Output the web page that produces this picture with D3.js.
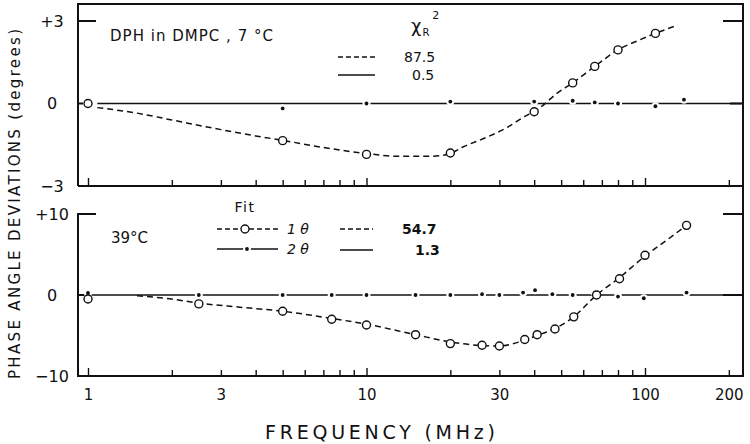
<!DOCTYPE html>
<html>
<head>
<meta charset="utf-8">
<script src="https://cdn.jsdelivr.net/npm/d3@7"></script>
<style>
body { margin: 0; background: #fff; }
text { font-family: "DejaVu Sans", sans-serif; fill: #111; }
</style>
</head>
<body>
<script>
// dimensions
var width = 750;
var height = 444;

// ---- data (frequency in MHz, phase angle deviation in degrees) ----
// top panel: DPH in DMPC, 7 C
var topFreq1 = [1, 5, 10, 20, 40, 55, 66, 80, 109];
var topDev1 = [0, -1.35, -1.85, -1.8, -0.3, 0.75, 1.35, 1.95, 2.55];
var topFreq2 = [1, 5, 10, 20, 40, 55, 66, 80, 109, 138];
var topDev2 = [0, -0.18, 0, 0.07, 0.07, 0.1, 0.04, 0, -0.1, 0.14];
// fitted curves, top
var topFitFreq1 = [1.08, 1.5, 2, 3, 4, 5, 7, 10, 13, 17, 20, 22, 27, 32, 37, 42, 48, 55, 66, 80, 95, 109, 131];
var topFitDev1 = [-0.15, -0.35, -0.6, -0.95, -1.18, -1.34, -1.6, -1.82, -1.92, -1.92, -1.82, -1.6, -1.23, -0.87, -0.47, -0.15, 0.35, 0.75, 1.35, 1.95, 2.3, 2.55, 2.85];
var topFitFreq2 = [1.08, 225];
var topFitDev2 = [0, 0];

// bottom panel: 39 C
var botFreq1 = [1, 2.5, 5, 7.5, 10, 15, 20, 26, 30, 37, 41, 47.5, 55.5, 67, 81, 100, 141];
var botDev1 = [-0.5, -1.1, -2.0, -3.0, -3.7, -4.9, -6.0, -6.2, -6.3, -5.5, -4.9, -4.2, -2.7, 0, 2.0, 4.9, 8.6];
var botFreq2 = [1, 2.5, 5, 7.5, 10, 15, 20, 26, 30, 36.5, 40.3, 46.5, 55, 66, 80, 99, 141];
var botDev2 = [0.25, 0, 0, 0, 0, 0, 0, 0.1, 0, 0.3, 0.6, 0.1, 0, 0.3, -0.2, -0.4, 0.3];
var botFitFreq1 = [1.5, 2, 2.5, 3.5, 5, 7.5, 10, 15, 20, 25, 30, 36, 41, 47, 55, 67, 80, 100, 120, 141];
var botFitDev1 = [-0.1, -0.5, -1.0, -1.5, -2.0, -2.9, -3.6, -4.9, -5.8, -6.2, -6.3, -5.7, -5.0, -4.2, -2.8, 0, 2.0, 4.8, 6.8, 8.6];
var botFitFreq2 = [0.92, 225];
var botFitDev2 = [0, 0];

// chi-square values
var chiTop = ["87.5", "0.5"];
var chiBot = ["54.7", "1.3"];

// axis ticks
var xLabels = [1, 3, 10, 30, 100, 200];
var topTicks = [3, 0, -3];
var topTickLabels = ["+3", "0", "\u22123"];
var botTicks = [10, 0, -10];
var botTickLabels = ["+10", "0", "\u221210"];

function zip(a, b) {
    return a.map(function(v, i) { return [v, b[i]]; });
}

// frame
var left = 78, right = 743;
var topY0 = 4, topY1 = 186;
var botY0 = 213, botY1 = 376;

var svg = d3.select("body")
    .append("svg")
    .attr("width", width)
    .attr("height", height);

// scales
var x = d3.scaleLog().domain([1, 100]).range([88, 645]);
var yTop = d3.scaleLinear().domain([-3, 3]).range([topY1, 21]);
var yBot = d3.scaleLinear().domain([-10, 10]).range([botY1, 214]);

// the box around both panels
svg.append("path")
    .attr("d", "M" + left + "," + topY1 + "V" + topY0 + "H" + right + "V" + botY1 + "H" + left + "V" + botY0)
    .attr("fill", "none")
    .attr("stroke", "#111")
    .attr("stroke-width", 2);
svg.append("line")
    .attr("x1", left).attr("x2", right)
    .attr("y1", topY1).attr("y2", topY1)
    .attr("stroke", "#111")
    .attr("stroke-width", 2);

// minor/major ticks along the bottom of each panel
var allTicks = x.copy().domain([1, 200]).ticks();
[topY1, botY1].forEach(function(yy) {
    var g = svg.append("g")
        .attr("transform", "translate(0," + yy + ")")
        .call(d3.axisBottom(x).tickValues(allTicks).tickSize(-6).tickFormat(""));
    g.select(".domain").remove();
    g.selectAll("line").attr("stroke", "#111").attr("stroke-width", 1.4)
        .attr("y2", function(d) { return [1, 10, 100].indexOf(d) >= 0 ? -8 : -6; });
});

// frequency labels
var xl = svg.append("g")
    .attr("transform", "translate(0," + (botY1 + 10) + ")")
    .call(d3.axisBottom(x).tickValues(xLabels).tickSize(0).tickFormat(d3.format("d")));
xl.select(".domain").remove();
xl.selectAll("text").attr("font-size", 15).attr("dy", "0.75em")
    .style("font-family", "DejaVu Sans, sans-serif");

// y ticks and labels
function yAxis(scale, ticks, labels, leftLen, rightLen) {
    ticks.forEach(function(t, i) {
        var yy = scale(t);
        svg.append("text")
            .attr("x", 52).attr("y", yy)
            .attr("dy", "0.36em")
            .attr("text-anchor", "middle")
            .attr("font-size", 16)
            .text(labels[i]);
        if (leftLen[i] > 0) {
            svg.append("line")
                .attr("x1", left).attr("x2", left + leftLen[i])
                .attr("y1", yy).attr("y2", yy)
                .attr("stroke", "#111").attr("stroke-width", 2);
        }
        if (rightLen[i] > 0) {
            svg.append("line")
                .attr("x1", right - rightLen[i]).attr("x2", right)
                .attr("y1", yy).attr("y2", yy)
                .attr("stroke", "#111").attr("stroke-width", 2);
        }
    });
}
yAxis(yTop, topTicks, topTickLabels, [18, 5, 0], [20, 13, 0]);
yAxis(yBot, botTicks, botTickLabels, [18, 6, 0], [20, 20, 0]);

// draw one panel
function panel(y, fit1, fit2, pts1, pts2) {
    var line = d3.line()
        .x(function(d) { return x(d[0]); })
        .y(function(d) { return y(d[1]); })
        .curve(d3.curveMonotoneX);

    svg.append("path")
        .datum(fit2)
        .attr("d", line)
        .attr("fill", "none")
        .attr("stroke", "#111")
        .attr("stroke-width", 1.5);

    svg.append("path")
        .datum(fit1)
        .attr("d", line)
        .attr("fill", "none")
        .attr("stroke", "#111")
        .attr("stroke-width", 1.5)
        .attr("stroke-dasharray", "6,4");

    // white gap around the dots, then the dots
    svg.append("g").selectAll("circle")
        .data(pts2).enter().append("circle")
        .attr("cx", function(d) { return x(d[0]); })
        .attr("cy", function(d) { return y(d[1]); })
        .attr("r", 4)
        .attr("fill", "#fff");
    svg.append("g").selectAll("circle")
        .data(pts2).enter().append("circle")
        .attr("cx", function(d) { return x(d[0]); })
        .attr("cy", function(d) { return y(d[1]); })
        .attr("r", 1.9)
        .attr("fill", "#111");

    svg.append("g").selectAll("circle")
        .data(pts1).enter().append("circle")
        .attr("cx", function(d) { return x(d[0]); })
        .attr("cy", function(d) { return y(d[1]); })
        .attr("r", 4)
        .attr("fill", "#fff")
        .attr("stroke", "#111")
        .attr("stroke-width", 1.4);
}

panel(yTop, zip(topFitFreq1, topFitDev1), zip(topFitFreq2, topFitDev2),
    zip(topFreq1, topDev1), zip(topFreq2, topDev2));
panel(yBot, zip(botFitFreq1, botFitDev1), zip(botFitFreq2, botFitDev2),
    zip(botFreq1, botDev1), zip(botFreq2, botDev2));

// ---- texts and legends ----
svg.append("text")
    .attr("x", 110).attr("y", 41)
    .attr("font-size", 15)
    .attr("textLength", 163)
    .attr("lengthAdjust", "spacing")
    .text("DPH in DMPC , 7 \u00b0C");

// chi-square header
var chi = svg.append("text").attr("x", 411).attr("y", 32).attr("font-size", 18);
chi.append("tspan").text("\u03c7");
chi.append("tspan").attr("font-size", 10).attr("dy", 4).attr("dx", 1).text("R");
chi.append("tspan").attr("font-size", 11).attr("dy", -17).attr("dx", 3).text("2");

function legendLine(x1, x2, yy, dashed) {
    svg.append("line")
        .attr("x1", x1).attr("x2", x2)
        .attr("y1", yy).attr("y2", yy)
        .attr("stroke", "#111")
        .attr("stroke-width", 1.5)
        .attr("stroke-dasharray", dashed ? "5,3" : null);
}

legendLine(338, 375, 57, true);
legendLine(338, 375, 75, false);
svg.append("text").attr("x", 404).attr("y", 57).attr("dy", "0.36em").attr("font-size", 14).text(chiTop[0]);
svg.append("text").attr("x", 412).attr("y", 75).attr("dy", "0.36em").attr("font-size", 14).text(chiTop[1]);

// bottom panel
svg.append("text")
    .attr("x", 111).attr("y", 243)
    .attr("font-size", 15)
    .text("39\u00b0C");

svg.append("text")
    .attr("x", 245).attr("y", 207)
    .attr("dy", "0.36em")
    .attr("text-anchor", "middle")
    .attr("font-size", 14)
    .attr("letter-spacing", 1.5)
    .text("Fit");

legendLine(217, 280, 229, true);
svg.append("circle").attr("cx", 245).attr("cy", 229).attr("r", 4)
    .attr("fill", "#fff").attr("stroke", "#111").attr("stroke-width", 1.4);
legendLine(217, 278, 249, false);
svg.append("circle").attr("cx", 247).attr("cy", 249).attr("r", 4).attr("fill", "#fff");
svg.append("circle").attr("cx", 247).attr("cy", 249).attr("r", 1.9).attr("fill", "#111");
svg.append("text").attr("x", 287).attr("y", 229).attr("dy", "0.36em")
    .attr("font-size", 14).attr("font-style", "italic").text("1 \u03b8");
svg.append("text").attr("x", 287).attr("y", 249).attr("dy", "0.36em")
    .attr("font-size", 14).attr("font-style", "italic").text("2 \u03b8");

legendLine(340, 373, 229, true);
legendLine(340, 373, 250, false);
svg.append("text").attr("x", 402).attr("y", 229).attr("dy", "0.36em")
    .attr("font-size", 14).attr("font-weight", "bold").text(chiBot[0]);
svg.append("text").attr("x", 415).attr("y", 250).attr("dy", "0.36em")
    .attr("font-size", 14).attr("font-weight", "bold").text(chiBot[1]);

// axis titles
svg.append("text")
    .attr("x", 380).attr("y", 439)
    .attr("text-anchor", "middle")
    .attr("font-size", 19)
    .attr("textLength", 230)
    .attr("lengthAdjust", "spacing")
    .text("FREQUENCY (MHz)");

svg.append("text")
    .attr("transform", "translate(20,204) rotate(-90)")
    .attr("text-anchor", "middle")
    .attr("font-size", 15)
    .attr("textLength", 350)
    .attr("lengthAdjust", "spacing")
    .text("PHASE ANGLE DEVIATIONS (degrees)");
</script>
</body>
</html>
